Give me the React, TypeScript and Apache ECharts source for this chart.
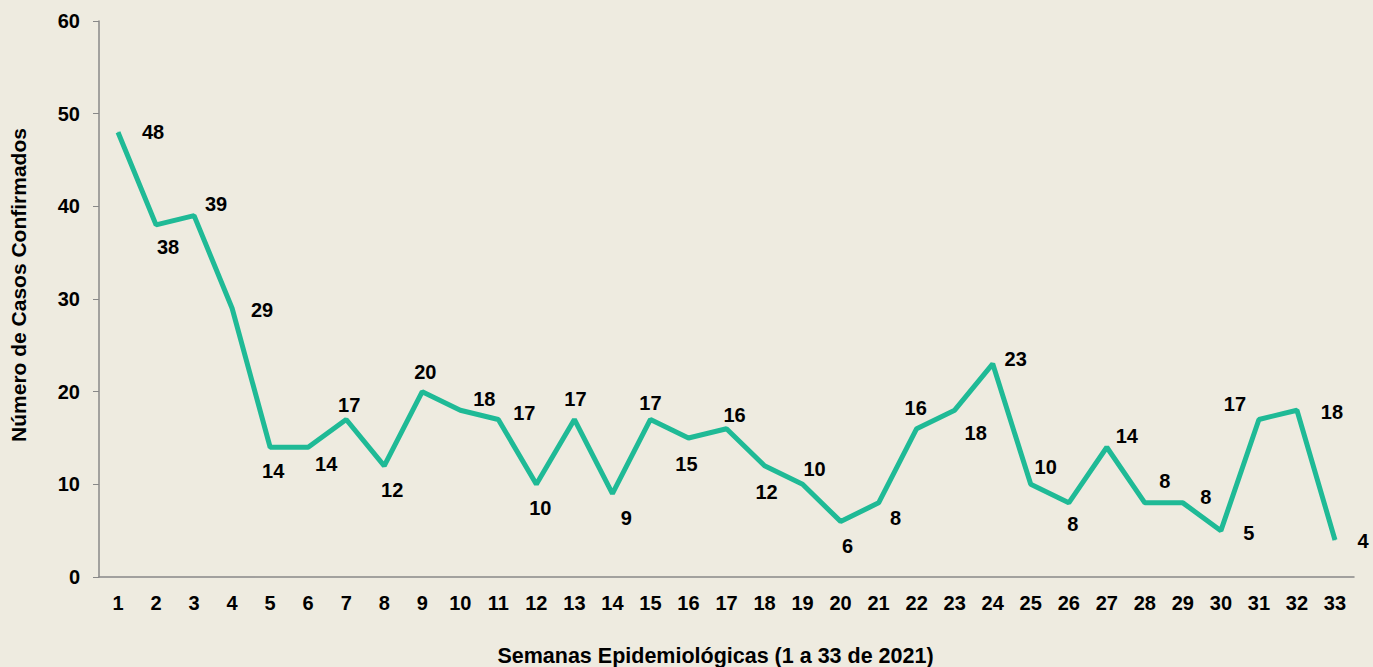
import React, { useEffect, useRef } from "react";
import * as echarts from "echarts";

const weeks = Array.from({ length: 33 }, (_, i) => String(i + 1));
const cases = [48, 38, 39, 29, 14, 14, 17, 12, 20, 18, 17, 10, 17, 9, 17, 15, 16, 12, 10, 6, 8, 16, 18, 23, 10, 8, 14, 8, 8, 5, 17, 18, 4];
const labelOffsets: [number, number][] = [
  [35, 0], [12, 22], [22, -12], [30, 2], [3, 24], [18, 17], [3, -14], [8, 24], [3, -20], [24, -11],
  [26, -6], [4, 24], [1, -20], [14, 24], [0, -16], [-2, 26], [8, -14], [2, 26], [12, -15], [7, 25],
  [17, 15], [-1, -21], [21, 23], [23, -5], [15, -17], [4, 21], [20, -11], [20, -22], [23, -6], [28, 2],
  [-24, -15], [35, 2], [28, 1],
];
const yTicks = [0, 10, 20, 30, 40, 50, 60];

const FONT = "'Liberation Sans', Arial, sans-serif";

export default function App() {
  const ref = useRef<HTMLDivElement>(null);
  useEffect(() => {
    const chart = echarts.init(ref.current!, null, { renderer: "svg" });
    chart.setOption({
      animation: false,
      backgroundColor: "#EEEBE0",
      grid: { left: 99, right: 19, top: 21, bottom: 90, containLabel: false, outerBoundsMode: "none" },
      xAxis: {
        type: "category",
        data: weeks,
        boundaryGap: true,
        axisLine: { lineStyle: { color: "#888888", width: 1.5 } },
        axisTick: { show: false },
        axisLabel: { color: "#000", fontWeight: "bold", fontSize: 20, fontFamily: FONT, margin: 16, interval: 0 },
        name: "Semanas Epidemiológicas (1 a 33 de 2021)",
        nameLocation: "middle",
        nameGap: 68,
        nameTextStyle: { color: "#000", fontWeight: "bold", fontSize: 21.5, fontFamily: FONT, padding: [0, 22, 0, 0] },
      },
      yAxis: {
        type: "value",
        min: yTicks[0],
        max: yTicks[yTicks.length - 1],
        interval: 10,
        axisLine: { show: true, lineStyle: { color: "#888888", width: 1.5 } },
        axisTick: { show: true, length: 6, lineStyle: { color: "#888888" } },
        splitLine: { show: false },
        axisLabel: { color: "#000", fontWeight: "bold", fontSize: 20, fontFamily: FONT, margin: 19 },
        name: "Número de Casos Confirmados",
        nameLocation: "middle",
        nameGap: 70,
        nameRotate: 90,
        nameTextStyle: { color: "#000", fontWeight: "bold", fontSize: 21, fontFamily: FONT, padding: [0, 0, 0, 28] },
      },
      series: [
        {
          type: "line",
          data: cases.map((v, i) => ({
            value: v,
            label: { offset: labelOffsets[i] },
          })),
          symbol: "circle",
          symbolSize: 1,
          itemStyle: { color: "#1FBA96" },
          lineStyle: { color: "#1FBA96", width: 5 },
          label: {
            show: true,
            position: "inside",
            color: "#000",
            fontWeight: "bold",
            fontSize: 20,
            fontFamily: FONT,
          },
        },
      ],
    });
    return () => chart.dispose();
  }, []);
  return <div ref={ref} style={{ width: 1373, height: 667, position: "absolute", left: 0, top: 0 }} />;
}
